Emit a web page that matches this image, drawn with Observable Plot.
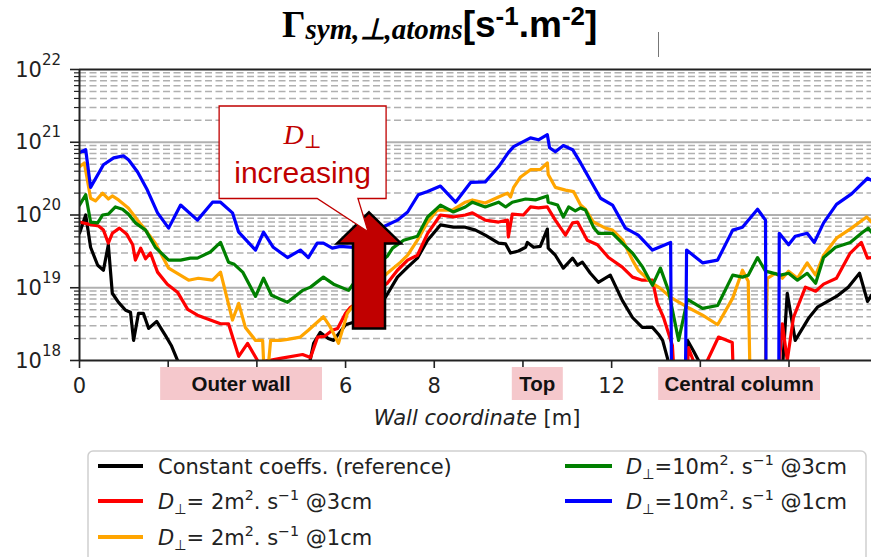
<!DOCTYPE html>
<html>
<head>
<meta charset="utf-8">
<script src="https://cdn.jsdelivr.net/npm/d3@7"></script>
<script src="https://cdn.jsdelivr.net/npm/@observablehq/plot@0.6"></script>
<style>
html,body{margin:0;padding:0;background:#fff;}
#chart{width:871px;height:557px;overflow:hidden;position:relative;}
#chart svg{display:block;}
</style>
</head>
<body>
<div id="chart"></div>
<script>
// ---------- data (wall coordinate in m, flux in s^-1.m^-2) ----------
const wallTicks = [0, 2, 4, 6, 8, 10, 12, 14, 16];
const decadeTicks = [1e18, 1e19, 1e20, 1e21, 1e22];
const minorSteps = [2, 3, 4, 5, 6, 7, 8, 9];

const regionNames = ["Outer wall", "Top", "Central column"];
const regionStart = [1.83, 9.76, 13.06];
const regionEnd = [5.48, 10.91, 16.71];

const blackX = [0,0.14,0.25,0.41,0.54,0.65,0.74,0.88,1.04,1.15,1.22,1.33,1.44,1.56,1.74,1.94,2.07,2.23,2.5,4.98,5.21,5.28,5.43,5.61,5.73,6.0,6.18,6.9,7.17,7.4,7.62,7.85,8.14,8.43,8.7,8.93,9.15,9.45,9.61,9.72,9.9,10.06,10.1,10.24,10.39,10.55,10.57,10.73,10.91,11.12,11.23,11.34,11.52,11.7,11.97,12.24,12.47,12.69,12.92,13.06,13.15,13.26,13.37,13.62,13.71,13.84,13.96,14.12,15.81,15.96,16.14,16.44,16.64,17.07,17.34,17.59,17.77,17.86];
const blackY = [5.6e19,1.0e20,3.6e19,2.04e19,1.74e19,3.9e19,8.4e18,6.3e18,4.9e18,4.6e18,1.89e18,4.45e18,4.45e18,2.76e18,3.45e18,2.2e18,1.61e18,9.4e17,3e17,3e17,1.07e18,1.72e18,2.43e18,2.0e18,1.89e18,3.1e18,3.35e18,7.4e18,1.4e19,1.92e19,2.55e19,4.5e19,7.3e19,6.8e19,6.8e19,6.2e19,5.3e19,4.1e19,4.0e19,3.0e19,3.2e19,3.6e19,4.2e19,3.6e19,3.7e19,6.4e19,3.5e19,2.8e19,1.86e19,2.55e19,2.04e19,2.25e19,1.58e19,1.19e19,1.49e19,6.7e18,3.9e18,2.85e18,2.85e18,2.28e18,1.89e18,1.07e18,3e17,3e17,1.89e18,1.37e18,1.0e18,3e17,3e17,8.4e18,1.89e18,3.8e18,5.4e18,7.6e18,1.02e19,1.58e19,6.5e18,7.9e18];

const redX = [0,0.2,0.43,0.54,0.65,0.74,0.9,1.06,1.2,1.26,1.38,1.49,1.6,1.76,1.98,2.21,2.44,2.66,2.95,3.18,3.36,3.59,3.79,4.04,4.53,5.03,5.21,5.37,5.52,5.7,5.82,6.0,6.11,6.94,7.17,7.4,7.62,7.85,8.14,8.43,8.7,8.86,9.15,9.45,9.65,9.67,9.76,10.01,10.17,10.35,10.55,10.73,10.96,11.12,11.23,11.45,11.68,11.93,12.24,12.47,12.69,12.92,13.03,13.17,13.37,13.44,13.69,13.73,13.84,14.0,14.16,14.41,14.72,14.76,15.72,15.85,15.96,16.1,16.37,16.6,16.78,17.07,17.38,17.63,17.77,17.86];
const redY = [8.0e19,7.5e19,7.05e19,6.2e19,4.1e19,5.6e19,6.6e19,5.5e19,3.9e19,2.4e19,3.5e19,2.5e19,3.0e19,1.64e19,1.12e19,8.7e18,5.05e18,4.2e18,3.6e18,3.2e18,3.2e18,1.14e18,1.72e18,9.4e17,1.07e18,1.21e18,1.1e18,2.1e18,2.14e18,2.6e18,2.76e18,4.45e18,5.4e18,1.15e19,1.74e19,2.4e19,2.8e19,5.6e19,1.0e20,9.4e19,1.0e20,1.07e20,8.5e19,8.0e19,8.5e19,5.0e19,1.03e20,1.0e20,1.29e20,1.25e20,1.29e20,8.5e19,5.3e19,7.8e19,8.0e19,4.5e19,3.9e19,2.6e19,1.92e19,1.4e19,1.27e19,1.27e19,6.1e18,3.9e18,1.61e18,3e17,3e17,1.51e18,1.0e18,3e17,1.0e18,2.1e18,1.77e18,3e17,3e17,3.2e18,1.0e18,3.9e18,1.02e19,8.95e18,1.12e19,1.35e19,3.0e19,4.2e19,2.55e19,2.6e19];

const orangeX = [0,0.11,0.25,0.36,0.52,0.65,0.74,0.88,1.1,1.31,1.49,1.71,2.01,2.16,2.46,2.68,3.0,3.18,3.45,3.59,3.74,3.97,4.13,4.19,4.31,4.53,4.69,4.98,5.16,5.5,5.66,5.84,6.04,6.22,6.94,7.24,7.4,7.62,7.85,8.07,8.41,8.7,8.86,9.15,9.45,9.65,9.72,9.79,9.94,10.17,10.39,10.55,10.57,10.73,10.96,11.14,11.3,11.41,11.59,11.86,12.02,12.25,12.47,12.6,12.92,13.1,13.33,13.71,14.05,14.39,14.73,14.95,15.08,15.13,15.45,15.51,15.69,15.85,15.99,16.19,16.41,16.6,16.78,17.07,17.41,17.75,17.86];
const orangeY = [4.6e20,5.2e20,1.7e20,1.56e20,2.0e20,1.66e20,1.83e20,1.61e20,1.25e20,8.5e19,6.2e19,4.1e19,1.86e19,1.64e19,1.27e19,1.35e19,1.27e19,1.64e19,3.6e18,6.1e18,2.85e18,1.89e18,1.89e18,3e17,1.89e18,1.89e18,1.95e18,2.1e18,2.6e18,4.0e18,2.85e18,1.72e18,4.45e18,6.1e18,1.58e19,2.25e19,2.8e19,4.5e19,8.0e19,1.17e20,1.17e20,1.5e20,1.61e20,1.46e20,1.77e20,2.0e20,1.77e20,2.4e20,3.3e20,4.2e20,4.2e20,5.2e20,3.6e20,2.4e20,2.2e20,2.1e20,1.37e20,1.2e20,8.0e19,6.6e19,6.2e19,4.5e19,2.4e19,1.74e19,1.15e19,9.8e18,7.4e18,5.4e18,4.2e18,3.1e18,7.2e18,1.74e19,1.23e19,3e17,3e17,1.35e19,1.58e19,1.35e19,1.69e19,1.35e19,2.2e19,1.49e19,2.8e19,4.8e19,6.6e19,9.4e19,8.0e19];

const greenX = [0,0.14,0.25,0.41,0.52,0.65,0.81,0.97,1.1,1.26,1.49,1.71,2.01,2.28,2.5,2.66,2.95,3.18,3.36,3.49,3.68,3.97,4.15,4.33,4.69,5.03,5.21,5.5,5.73,6.07,6.18,6.94,7.06,7.31,7.62,7.85,8.14,8.43,8.7,8.86,9.15,9.45,9.61,9.76,10.06,10.28,10.55,10.57,10.78,10.91,11.03,11.18,11.3,11.41,11.59,11.7,12.02,12.24,12.47,12.7,12.92,13.1,13.28,13.51,13.71,14.05,14.39,14.73,14.95,15.08,15.29,15.47,15.81,15.99,16.19,16.41,16.6,16.78,17.05,17.38,17.66,17.79,17.86];
const greenY = [1.37e20,1.9e20,8.0e19,7.8e19,1.0e20,1.03e20,1.29e20,1.2e20,1.03e20,7.8e19,6.2e19,3.6e19,2.4e19,2.4e19,2.55e19,2.55e19,3.1e19,4.2e19,2.25e19,2.1e19,1.64e19,7.6e18,1.35e19,7.9e18,6.3e18,9.2e18,1.02e19,1.4e19,1.12e19,9.2e18,1.15e19,2.7e19,3.5e19,4.5e19,5.1e19,9.4e19,1.37e20,1.1e20,1.29e20,1.5e20,1.29e20,1.5e20,1.29e20,1.5e20,1.66e20,1.61e20,1.83e20,1.5e20,1.37e20,9.4e19,1.29e20,1.14e20,1.25e20,1.17e20,6.8e19,5.6e19,5.6e19,4.1e19,3.0e19,1.92e19,1.08e19,1.86e19,9.2e18,1.89e18,6.9e18,5.2e18,5.7e18,1.49e19,1.4e19,1.49e19,2.6e19,1.69e19,1.49e19,1.58e19,1.27e19,1.58e19,1.15e19,2.6e19,3.6e19,4.2e19,5.8e19,6.6e19,5.8e19];

const blueX = [0,0.14,0.25,0.54,0.77,0.99,1.11,1.31,1.53,1.76,2.01,2.28,2.66,3.0,3.18,3.45,3.59,3.97,4.15,4.37,4.69,4.98,5.16,5.36,5.5,5.7,5.88,6.18,6.83,7.17,7.4,7.64,7.85,8.14,8.48,8.82,9.15,9.45,9.67,9.79,10.17,10.35,10.55,10.6,10.73,10.91,11.12,11.3,11.52,11.75,12.02,12.31,12.6,12.92,13.33,13.37,13.64,13.69,14.05,14.39,14.73,14.95,15.29,15.47,15.49,15.76,15.78,15.99,16.14,16.41,16.57,16.78,17.07,17.41,17.77,17.86];
const blueY = [7.2e20,7.9e20,2.4e20,4.9e20,6.1e20,6.5e20,5.7e20,3.9e20,2.2e20,1.07e20,6.6e19,1.37e20,8.5e19,1.5e20,1.5e20,1.07e20,5.8e19,3.3e19,5.8e19,3.6e19,2.6e19,3.3e19,2.6e19,4.1e19,4.1e19,3.5e19,3.7e19,3.6e19,6.8e19,8.5e19,1.1e20,1.9e20,2.1e20,2.5e20,1.5e20,2.8e20,2.85e20,4.6e20,7.2e20,8.7e20,1.15e21,1.08e21,1.27e21,8.4e20,7.4e20,9.0e20,7.9e20,5.2e20,3.0e20,1.7e20,1.37e20,6.6e19,5.3e19,3.3e19,4.2e19,1e16,1e16,3.3e19,2.2e19,2.4e19,6.2e19,6.8e19,1.2e20,8.5e19,1e16,1e16,5.6e19,3.9e19,5.1e19,5.6e19,4.2e19,7.8e19,1.4e20,1.95e20,3.2e20,3.0e20];

// legend labels as [text, role] segments
const legendLabels = [
  [["Constant coeffs. (reference)", ""]],
  [["D","i"],["⊥","sub"],["= 2m",""],["2","sup"],[". s",""],["−1","sup"],[" @3cm",""]],
  [["D","i"],["⊥","sub"],["= 2m",""],["2","sup"],[". s",""],["−1","sup"],[" @1cm",""]],
  [["D","i"],["⊥","sub"],["=10m",""],["2","sup"],[". s",""],["−1","sup"],[" @3cm",""]],
  [["D","i"],["⊥","sub"],["=10m",""],["2","sup"],[". s",""],["−1","sup"],[" @1cm",""]]
];

// annotation anchors (data units)
const callout = {x1: 3.16, x2: 6.925, top: 3.1e21, bottom: 1.66e20, tailL: 5.37, tailR: 6.29, tipX: 6.52, tipY: 5.8e19};
const arrow = {x: 6.54, tip: 1.07e20, head: 4.0e19, base: 2.7e18};

// ---------- styles ----------
const seriesX = [blackX, redX, orangeX, greenX, blueX];
const seriesY = [blackY, redY, orangeY, greenY, blueY];
const seriesColors = ["#000000", "#ff0000", "#ffa500", "#008000", "#0000ff"];
const legendSlots = [[98, 143, 158, 466], [98, 143, 158, 501], [98, 143, 158, 537], [565, 612, 626, 466], [565, 612, 626, 501]];

const minorTicks = decadeTicks.slice(0, -1).flatMap(d => minorSteps.map(m => m * d));
const seriesData = seriesX.map((xs, i) => xs.map((x, j) => ({x, y: seriesY[i][j]})));
// tick labels hidden beneath the region boxes
const coveredTick = t => regionNames.some((_, i) => t >= regionStart[i] - 0.1 && t <= regionEnd[i] + 0.1);

function segText(sel, segs, size) {
  let shift = 0;
  for (const [t, role] of segs) {
    const ts = sel.append("tspan");
    let target = 0;
    if (role === "sup") { ts.attr("font-size", size * 0.68); target = -size * 0.42; }
    else if (role === "sub") { ts.attr("font-size", size * 0.68); target = size * 0.25; }
    else if (role === "i") ts.attr("font-style", "italic");
    ts.attr("dy", target - shift);
    shift = target;
    ts.text(t);
  }
}

function overlay(index, scales, values, dimensions) {
  const sx = scales.x, sy = scales.y;
  const {width, height, marginLeft, marginBottom} = dimensions;
  const bottom = height - marginBottom;
  const g = d3.create("svg:g").attr("text-anchor", "start");

  // y tick labels 10^n
  for (const v of decadeTicks) {
    const py = sy(v);
    const t = g.append("text").attr("x", marginLeft - 18).attr("y", py + 7.5)
      .attr("text-anchor", "end").attr("font-family", "DejaVu Sans").attr("font-size", 21).attr("fill", "#222");
    t.append("tspan").text("10");
    t.append("tspan").attr("font-size", 15).attr("dy", -12).text(String(Math.round(Math.log10(v))));
  }

  // x axis label
  const xl = g.append("text").attr("x", (marginLeft + width) / 2 + 2).attr("y", bottom + 65)
    .attr("text-anchor", "middle").attr("font-family", "DejaVu Sans").attr("font-size", 21).attr("fill", "#222");
  xl.append("tspan").attr("font-style", "italic").text("Wall coordinate");
  xl.append("tspan").text(" [m]");

  // region boxes
  regionNames.forEach((name, i) => {
    const x1 = sx(regionStart[i]), x2 = sx(regionEnd[i]);
    g.append("rect").attr("x", x1).attr("y", bottom + 7).attr("width", x2 - x1).attr("height", 33).attr("fill", "#f5c8cc");
    g.append("text").attr("x", (x1 + x2) / 2).attr("y", bottom + 30.5).attr("text-anchor", "middle")
      .attr("font-family", "Liberation Sans, Arial").attr("font-weight", "bold").attr("font-size", 20.5)
      .attr("fill", "#111").text(name);
  });

  // big arrow
  const ax = sx(arrow.x), tY = sy(arrow.tip), hY = sy(arrow.head), bY = sy(arrow.base);
  g.append("path")
    .attr("d", `M${ax},${tY}L${ax + 32},${hY}L${ax + 16},${hY}L${ax + 16},${bY}L${ax - 16},${bY}L${ax - 16},${hY}L${ax - 32},${hY}Z`)
    .attr("fill", "#c00000").attr("stroke", "#000").attr("stroke-width", 2.5).attr("stroke-linejoin", "miter");

  // callout
  const c1 = sx(callout.x1), c2 = sx(callout.x2), cT = sy(callout.top), cB = sy(callout.bottom);
  g.append("path")
    .attr("d", `M${c1},${cT}H${c2}V${cB}H${sx(callout.tailR)}L${sx(callout.tipX)},${sy(callout.tipY)}L${sx(callout.tailL)},${cB}H${c1}Z`)
    .attr("fill", "#fff").attr("stroke", "#c00000").attr("stroke-width", 1.3);
  const cx = (c1 + c2) / 2;
  const d = g.append("text").attr("x", cx).attr("y", cT + 38).attr("text-anchor", "middle").attr("fill", "#c00000")
    .attr("font-family", "Liberation Serif, DejaVu Serif").attr("font-size", 28);
  d.append("tspan").attr("font-style", "italic").text("D");
  d.append("tspan").attr("font-size", 19).attr("dy", 4).text("⊥");
  g.append("text").attr("x", cx).attr("y", cT + 77).attr("text-anchor", "middle").attr("fill", "#c00000")
    .attr("font-family", "Liberation Sans, Arial").attr("font-size", 30).text("increasing");

  // title
  const tt = g.append("text").attr("x", 282).attr("y", 37).attr("text-anchor", "start").attr("fill", "#000");
  tt.append("tspan").attr("font-family", "Liberation Serif").attr("font-weight", "bold").attr("font-size", 37).text("Γ");
  tt.append("tspan").attr("font-family", "Liberation Serif").attr("font-weight", "bold").attr("font-style", "italic")
    .attr("font-size", 29).attr("dy", 2).text("sym,⊥,atoms");
  const u = (txt, dy, size) => tt.append("tspan").attr("font-family", "Liberation Sans, Arial").attr("font-weight", "bold")
    .attr("font-size", size).attr("dy", dy).text(txt);
  u("[s", -2, 37); u("-1", -12, 26); u(".m", 12, 37); u("-2", -12, 26); u("]", 12, 37);
  g.append("line").attr("x1", 658.5).attr("x2", 658.5).attr("y1", 32).attr("y2", 57).attr("stroke", "#777").attr("stroke-width", 1);

  // legend
  g.append("rect").attr("x", 88).attr("y", 451).attr("width", 778).attr("height", 140).attr("rx", 5)
    .attr("fill", "#fff").attr("stroke", "#cfcfcf").attr("stroke-width", 1.5);
  legendLabels.forEach((segs, i) => {
    const [l1, l2, tx, ry] = legendSlots[i];
    g.append("line").attr("x1", l1).attr("x2", l2).attr("y1", ry).attr("y2", ry)
      .attr("stroke", seriesColors[i]).attr("stroke-width", 4);
    const t = g.append("text").attr("x", tx).attr("y", ry + 7.5).attr("text-anchor", "start")
      .attr("font-family", "DejaVu Sans").attr("font-size", 21).attr("fill", "#222");
    segText(t, segs, 21);
  });
  return g.node();
}

const chart = Plot.plot({
  width: 871,
  height: 557,
  marginTop: 69,
  marginLeft: 79,
  marginRight: 0,
  marginBottom: 197,
  style: {background: "white", fontFamily: "DejaVu Sans", fontSize: "21px", overflow: "hidden"},
  x: {domain: [0, 17.86], label: null},
  y: {type: "log", domain: [1e18, 1e22], label: null},
  marks: [
    Plot.ruleY(minorTicks, {stroke: "#b0b0b0", strokeWidth: 1.5, strokeDasharray: "7,3.5"}),
    Plot.ruleY(decadeTicks.slice(1, -1), {stroke: "#b0b0b0", strokeWidth: 2}),
    ...seriesData.map((data, i) => Plot.line(data, {x: "x", y: "y", stroke: seriesColors[i], strokeWidth: 3.2, clip: true})),
    Plot.ruleY([1e22, 1e18], {stroke: "#222", strokeWidth: 2}),
    Plot.ruleX([0], {stroke: "#222", strokeWidth: 2}),
    Plot.axisY({ticks: minorTicks, tickSize: 5, tickFormat: () => "", stroke: "#222", strokeWidth: 1.2, label: null}),
    Plot.axisY({ticks: decadeTicks, tickSize: 9, tickFormat: () => "", stroke: "#222", strokeWidth: 1.6, label: null}),
    Plot.axisX({ticks: wallTicks, tickSize: 8, tickPadding: 10, tickFormat: d => coveredTick(d) ? "" : String(d), fontSize: 21, fill: "#222", stroke: "#222", strokeWidth: 1.6, label: null}),
    overlay
  ]
});
document.getElementById("chart").appendChild(chart);
</script>
</body>
</html>
